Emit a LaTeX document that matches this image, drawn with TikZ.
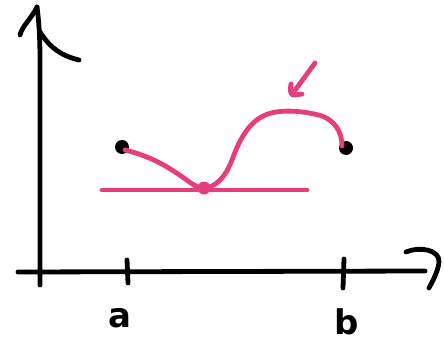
\documentclass[tikz,border=0pt]{standalone}
\usepackage{fontspec}
\newfontfamily\handfont{DejaVu Sans}
\definecolor{pinkc}{RGB}{230,62,122}
\begin{document}
\begin{tikzpicture}[x=1pt,y=-1pt,
  ink/.style={line width=4.8pt,line cap=round,line join=round},
  axis/.style={ink,black},
  pen/.style={ink,pinkc},
  lbl/.style={font=\handfont\bfseries\fontsize{34}{34}\selectfont,inner sep=0pt}]
\useasboundingbox (0,0) rectangle (444,345);
% axes
\coordinate (ytop) at (37,7);
\coordinate (ybot) at (40,285);
\coordinate (xl) at (18,272);
\coordinate (xr) at (425,271);
\draw[axis] (ybot) -- (40,60) .. controls (40,30) and (38,15) .. (ytop);
\draw[axis] (ytop) .. controls (32,18) and (22,26) .. (20,35);
\draw[axis] (40,32) .. controls (50,48) and (62,56) .. (79,60);
\draw[axis] (xl) -- (xr);
\draw[axis] (406,252) .. controls (420,246) and (440,250) .. (439,262) .. controls (438,272) and (432,282) .. (429,288);
% ticks
\draw[axis] (127,260) -- (128,283);
\draw[axis] (344,259) -- (343,288);
\node[lbl] (la) at (120,318) {a};
\node[lbl] (lb) at (347,322) {b};
% endpoints
\node[circle,fill=black,inner sep=0pt,minimum size=14pt] (pa) at (122,147) {};
\node[circle,fill=black,inner sep=0pt,minimum size=14pt] (pb) at (346,148) {};
% tangent line
\coordinate (tl) at (102,190);
\coordinate (tr) at (307,190);
\draw[pen] (tl) -- (tr);
% curve
\draw[pen] (125,150) .. controls (145,155) and (160,162) .. (175,172)
  .. controls (188,180) and (195,188) .. (203,188)
  .. controls (215,188) and (225,178) .. (232,160)
  .. controls (240,138) and (250,120) .. (268,114)
  .. controls (282,109) and (305,111) .. (322,116)
  .. controls (335,121) and (342,132) .. (342,146);
\node[circle,fill=pinkc,inner sep=0pt,minimum size=13pt] (tp) at (204,188) {};
% pointer arrow
\coordinate (as) at (315,63);
\coordinate (ae) at (293,93);
\draw[pen] (as) -- (ae);
\draw[pen] (291,84) .. controls (290,90) and (290,94) .. (293,95) .. controls (297,95) and (300,94) .. (302,94);
\end{tikzpicture}
\end{document}
